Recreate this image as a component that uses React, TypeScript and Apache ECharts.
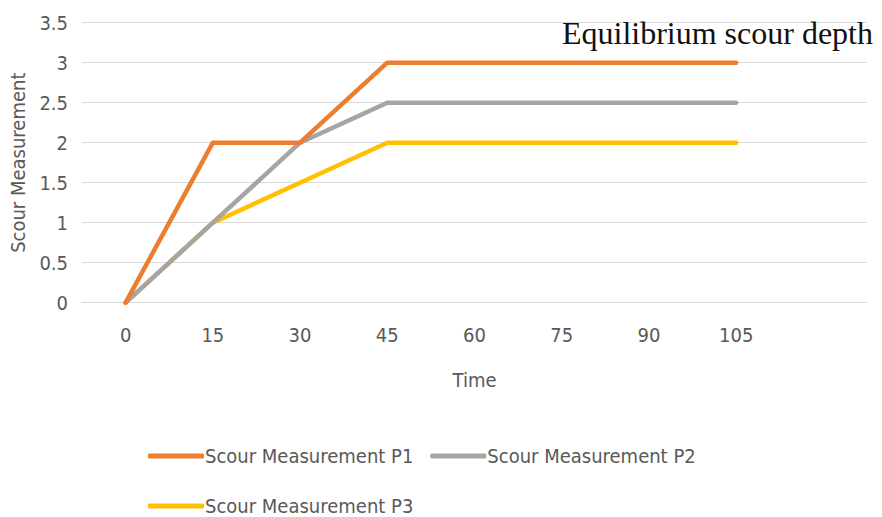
import React, { useEffect, useRef } from "react";
import * as echarts from "echarts";

// Sampling times (min); the trailing blank slot leaves room on the right of the plot
const timeLabels = ["0", "15", "30", "45", "60", "75", "90", "105", ""];
const scourP1 = [0, 2, 2, 3, 3, 3, 3, 3];
const scourP2 = [0, 1, 2, 2.5, 2.5, 2.5, 2.5, 2.5];
const scourP3 = [0, 1, 1.5, 2, 2, 2, 2, 2];
const seriesNames = ["Scour Measurement P1", "Scour Measurement P2", "Scour Measurement P3"];
const seriesColors = ["#ED7D31", "#A5A5A5", "#FFC000"];

const FONT = "'DejaVu Sans Condensed', 'Liberation Sans Narrow', 'Open Sans', sans-serif";
const TEXT_COLOR = "#595959";

export default function App() {
  const ref = useRef<HTMLDivElement>(null);

  useEffect(() => {
    if (!ref.current) return;
    const chart = echarts.init(ref.current, undefined, { renderer: "svg" });
    const values = [scourP1, scourP2, scourP3];

    const legendCommon = {
      left: 148,
      orient: "horizontal" as const,
      icon: "roundRect",
      itemWidth: 56,
      itemHeight: 5,
      itemGap: 17,
      padding: 0,
      textStyle: {
        fontFamily: FONT,
        fontSize: 20,
        color: TEXT_COLOR,
        padding: [0, 0, 0, -4],
      },
    };

    chart.setOption({
      animation: false,
      backgroundColor: "#ffffff",
      title: {
        text: "Equilibrium scour depth",
        right: 9,
        top: 17,
        padding: 0,
        textStyle: {
          fontFamily: "'Liberation Serif', 'DejaVu Serif', serif",
          fontSize: 32,
          fontWeight: "normal",
          color: "#111111",
        },
      },
      legend: [
        { ...legendCommon, top: 446, data: [seriesNames[0], seriesNames[1]] },
        { ...legendCommon, top: 496, data: [seriesNames[2]] },
      ],
      grid: {
        left: 82,
        right: 15,
        top: 22.7,
        bottom: 214.3,
        containLabel: false,
        outerBoundsMode: "none",
      },
      xAxis: {
        type: "category",
        data: timeLabels,
        boundaryGap: true,
        name: "Time",
        nameLocation: "middle",
        nameGap: 67,
        nameTextStyle: { fontFamily: FONT, fontSize: 20, color: TEXT_COLOR },
        axisLine: { lineStyle: { color: "#D9D9D9", width: 1 } },
        axisTick: { show: false },
        axisLabel: {
          margin: 22,
          fontFamily: FONT,
          fontSize: 20,
          color: TEXT_COLOR,
        },
        splitLine: { show: false },
      },
      yAxis: {
        type: "value",
        min: 0,
        max: 3.5,
        interval: 0.5,
        name: "Scour Measurement",
        nameLocation: "middle",
        nameGap: 52,
        nameTextStyle: { fontFamily: FONT, fontSize: 20, color: TEXT_COLOR },
        axisLine: { show: false },
        axisTick: { show: false },
        axisLabel: {
          margin: 14,
          fontFamily: FONT,
          fontSize: 20,
          color: TEXT_COLOR,
        },
        splitLine: { lineStyle: { color: "#D9D9D9", width: 1 } },
      },
      series: seriesNames.map((name, i) => ({
        name,
        type: "line",
        data: values[i],
        symbol: "none",
        color: seriesColors[i],
        lineStyle: { width: 4.5, color: seriesColors[i], cap: "round", join: "round" },
        z: 3 - i,
      })),
    });

    return () => chart.dispose();
  }, []);

  return (
    <div
      ref={ref}
      style={{ position: "fixed", left: 0, top: 0, width: 882, height: 517 }}
    />
  );
}
